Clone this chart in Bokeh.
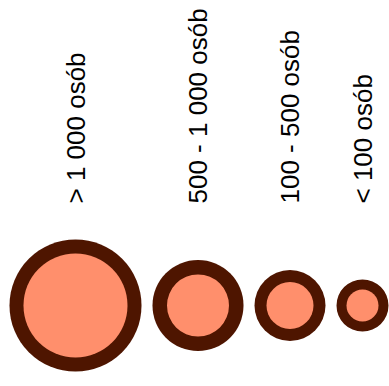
import math
from bokeh.plotting import figure
from bokeh.models import Range1d, ColumnDataSource
from bokeh.core.properties import value
from bokeh.embed import file_html
from bokeh.resources import INLINE

# Data
categories = ["> 1 000 osób", "500 - 1 000 osób", "100 - 500 osób", "< 100 osób"]
outer_radius = [66, 45.5, 35.5, 26]
inner_radius = [52, 31, 23.5, 16]

W, H = 389, 386
GAP = 11
LEFT = 9
ROW_Y = 305
LABEL_Y = 203

# layout: place circles side by side
centers = []
cur = LEFT
for r in outer_radius:
    centers.append(cur + r)
    cur += 2 * r + GAP

src = ColumnDataSource(dict(
    x=centers,
    y=[ROW_Y] * len(categories),
    ro=outer_radius,
    ri=inner_radius,
    label=categories,
    ly=[LABEL_Y] * len(categories),
))

p = figure(width=W, height=H, output_backend="svg", toolbar_location=None,
           x_range=Range1d(0, W), y_range=Range1d(H, 0),
           min_border=0, min_border_left=0, min_border_right=0,
           min_border_top=0, min_border_bottom=0)
p.axis.visible = False
p.grid.visible = False
p.outline_line_color = None
p.background_fill_color = "white"
p.border_fill_color = "white"

p.circle(x="x", y="y", radius="ro", source=src, fill_color="#4e1500", line_color=None)
p.circle(x="x", y="y", radius="ri", source=src, fill_color="#ff8f6c", line_color=None)

p.text(x="x", y="ly", text="label", source=src, angle=math.pi / 2,
       text_align="left", text_baseline="middle",
       text_font=value("Liberation Sans"), text_font_size="26px", text_color="black")

open("out.html", "w").write(file_html(p, INLINE))
